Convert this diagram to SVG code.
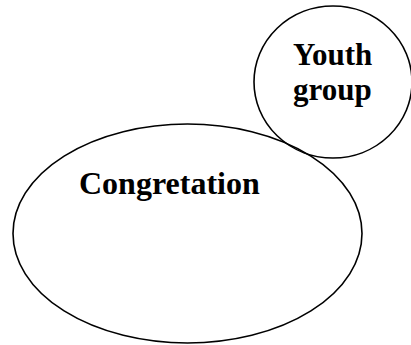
<svg xmlns="http://www.w3.org/2000/svg" width="411" height="345" viewBox="0 0 411 345">
<style>
.shape{fill:none;stroke:#000;stroke-width:1.6}
.lbl{font-family:"Liberation Serif","Times New Roman",serif;font-weight:bold;fill:#000}
</style>
<rect width="411" height="345" fill="#fff"/>
<g id="congregation">
<ellipse class="shape" cx="187.5" cy="233.5" rx="174.5" ry="109.5"/>
<text class="lbl" x="79" y="194" font-size="32">Congretation</text>
</g>
<g id="youth-group">
<ellipse class="shape" cx="333" cy="82" rx="79" ry="76"/>
<text class="lbl" x="293" y="65" font-size="31">Youth</text>
<text class="lbl" x="293" y="100" font-size="31">group</text>
</g>
<g id="connectors"></g>
</svg>
